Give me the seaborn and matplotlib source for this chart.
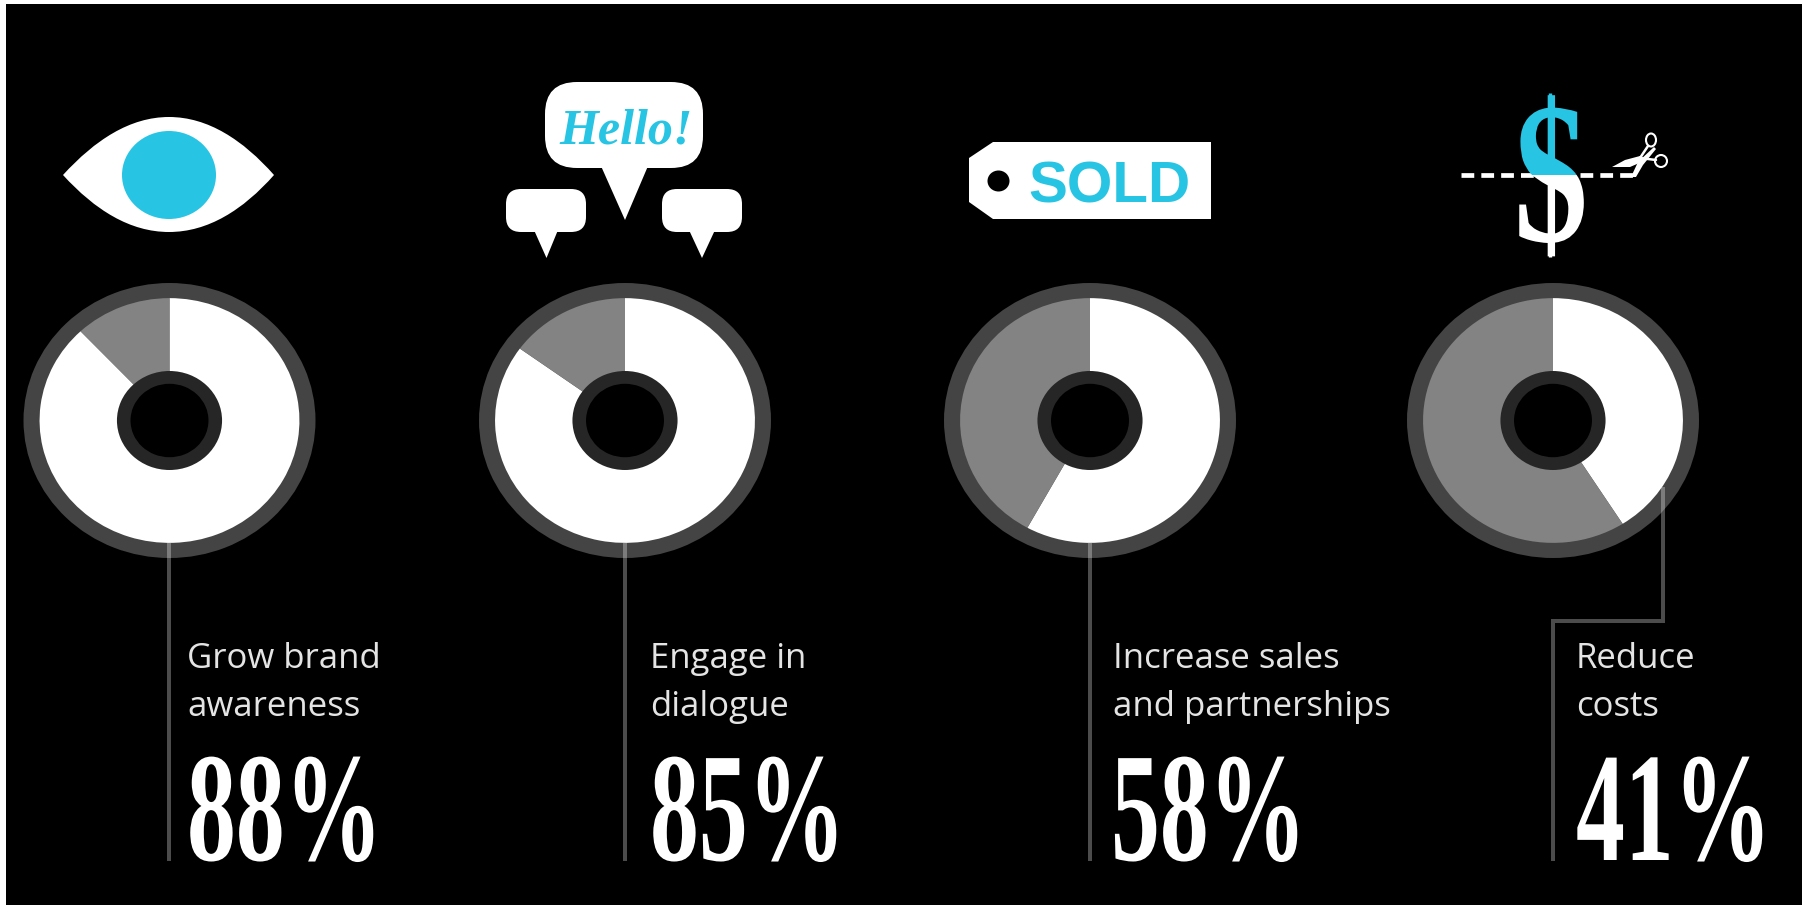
import matplotlib
matplotlib.use("Agg")
import matplotlib.pyplot as plt
import seaborn as sns
from matplotlib.patches import Ellipse, FancyBboxPatch, PathPatch, Polygon, Rectangle
from matplotlib.patheffects import AbstractPathEffect
from matplotlib.path import Path
from matplotlib.transforms import Affine2D

# Survey results shown by the four rings
goals = ["Grow brand\nawareness", "Engage in\ndialogue",
         "Increase sales\nand partnerships", "Reduce\ncosts"]
shares = [88, 85, 58, 41]

# Ring centres and text columns, in canvas pixels
ring_x = [169.5, 625, 1090, 1553]
ring_y = 420.5
label_x = [187, 650, 1113, 1576]
percent_x = [187, 650, 1111, 1576]
RING_RX, RING_RY = 146, 137.5

CYAN = "#27c4e3"
WHITE, GRAY, RIM, HUB = sns.color_palette(["#ffffff", "#838383", "#444444", "#262626"])

W, H = 1808, 905
sns.set_theme(style="dark", rc={"axes.grid": False, "savefig.facecolor": "white"})


class Reshaped(AbstractPathEffect):
    """Stretch a text run about its own baseline origin, for a tall poster cut."""

    def __init__(self, sx, sy=1.0):
        super().__init__()
        self.sx, self.sy = sx, sy

    def draw_path(self, renderer, gc, tpath, affine, rgbFace=None):
        renderer.draw_path(gc, tpath, Affine2D().scale(self.sx, self.sy) + affine, rgbFace)


def canvas_axes(fig, zorder):
    ax = fig.add_axes([0, 0, 1, 1], zorder=zorder)
    ax.set_xlim(0, W)
    ax.set_ylim(H, 0)
    ax.axis("off")
    ax.patch.set_alpha(0)
    return ax


def draw_ring(fig, cx, cy, share):
    ax = fig.add_axes([(cx - RING_RX) / W, 1 - (cy + RING_RY) / H,
                       2 * RING_RX / W, 2 * RING_RY / H], zorder=2)
    flat = {"linewidth": 0, "edgecolor": "none"}
    ax.pie([1], radius=1.0, colors=[RIM], wedgeprops=flat)
    ax.pie([share, 100 - share], radius=0.89, colors=[WHITE, GRAY],
           startangle=90, counterclock=False, wedgeprops=flat)
    ax.pie([1], radius=0.36, colors=[HUB], wedgeprops=flat)
    ax.pie([1], radius=0.267, colors=["black"], wedgeprops=flat)
    ax.set_aspect("auto")
    ax.set_xlim(-1, 1)
    ax.set_ylim(-1, 1)
    ax.axis("off")


def draw_eye(ax):
    verts = [(63, 175), (95, 140), (130, 117), (169, 117),
             (208, 117), (243, 140), (274, 175),
             (243, 210), (208, 232), (169, 232),
             (130, 232), (95, 210), (63, 175)]
    codes = [Path.MOVETO] + [Path.CURVE4] * 12
    ax.add_patch(PathPatch(Path(verts, codes), fc="white", ec="none"))
    ax.add_patch(Ellipse((169, 175), 94, 88, fc=CYAN, ec="none"))


def draw_bubble(ax, x0, x1, y0, y1, rounding, tail):
    ax.add_patch(FancyBboxPatch((x0, y0), x1 - x0, y1 - y0,
                                boxstyle=f"round,pad=0,rounding_size={rounding}",
                                fc="white", ec="none"))
    ax.add_patch(Polygon(tail, closed=True, fc="white", ec="none"))


def draw_speech(ax):
    draw_bubble(ax, 545, 703, 82, 168, 32, [(601, 166), (648, 166), (625, 220)])
    draw_bubble(ax, 506, 586, 189, 232, 15, [(534, 230), (558, 230), (546.5, 258)])
    draw_bubble(ax, 662, 742, 189, 232, 15, [(689, 230), (715, 230), (702, 258)])
    ax.text(559, 144, "Hello!", color=CYAN, fontsize=36, ha="left", va="baseline",
            family="Liberation Serif", style="italic", weight="bold")


def draw_tag(ax):
    ax.add_patch(Polygon([(969, 158), (993, 142), (1211, 142), (1211, 219),
                          (993, 219), (969, 202)], closed=True, fc="white", ec="none"))
    ax.add_patch(Ellipse((998.5, 181), 22, 21, fc="black", ec="none"))
    ax.text(1028, 202, "SOLD", color=CYAN, fontsize=42, ha="left", va="baseline",
            family="Liberation Sans", weight="bold")


def draw_dollar(ax):
    cut = 175
    for color, clip in ((CYAN, Rectangle((1480, 80), 140, cut - 80, transform=ax.transData)),
                        ("white", Rectangle((1480, cut), 140, 100, transform=ax.transData))):
        glyph = ax.text(1514, 241, "$", color=color, fontsize=145, ha="left", va="baseline",
                        family="Liberation Serif", weight="bold",
                        path_effects=[Reshaped(0.735)])
        glyph.set_clip_path(clip)
        glyph.set_clip_on(True)
    ax.plot([1550.5, 1550.5], [93, cut], color=CYAN, lw=2.4, solid_capstyle="butt")
    ax.plot([1550.5, 1550.5], [cut, 257], color="white", lw=2.4, solid_capstyle="butt")
    ax.plot([1461, 1637], [175, 175], color="white", lw=3.4, dashes=(2.7, 1.5),
            dash_capstyle="butt")
    # scissors closing in on the dashed cut
    ax.add_patch(Polygon([(1612, 167), (1625, 160), (1640, 156), (1644, 161), (1630, 167)],
                         closed=True, fc="white", ec="none"))
    ax.add_patch(Polygon([(1631, 177), (1638, 162), (1654, 147), (1656, 149), (1643, 165), (1636, 177)],
                         closed=True, fc="white", ec="none"))
    ax.plot([1640, 1648], [158, 146], color="white", lw=1.8)
    ax.plot([1640, 1656], [158, 160], color="white", lw=1.8)
    ax.add_patch(Ellipse((1651, 140), 10, 13, fc="none", ec="white", lw=1.5))
    ax.add_patch(Ellipse((1661, 161), 12, 12, fc="none", ec="white", lw=1.5))


fig = plt.figure(figsize=(W / 100, H / 100), dpi=100, facecolor="white")
base = canvas_axes(fig, 1)
base.add_patch(Rectangle((6, 4), W - 12, H - 4, fc="black", ec="none"))

draw_eye(base)
draw_speech(base)
draw_tag(base)
draw_dollar(base)

for cx, goal, share, lx, px in zip(ring_x, goals, shares, label_x, percent_x):
    draw_ring(fig, cx, ring_y, share)
    first, second = goal.split("\n")
    base.text(lx, 668, first, color="#e4e4e4", fontsize=25, family="Open Sans", ha="left", va="baseline")
    base.text(lx, 716, second, color="#e4e4e4", fontsize=25, family="Open Sans", ha="left", va="baseline")
    base.text(px, 860, f"{share}%", color="white", fontsize=70, ha="left", va="baseline",
              family="Liberation Serif", weight="bold", path_effects=[Reshaped(1.005, 1.6)])

# Leader lines run over the rings, lightening whatever they cross
leaders = canvas_axes(fig, 3)
line = dict(color="white", alpha=0.3, lw=2.9, solid_capstyle="butt", solid_joinstyle="miter")
for cx in ring_x[:3]:
    leaders.plot([cx, cx], [543, 861], **line)
leaders.plot([1663, 1663, 1553, 1553], [487, 621, 621, 861], **line)

sns.despine(fig=fig, left=True, bottom=True)
fig.savefig("out.png", dpi=100)
